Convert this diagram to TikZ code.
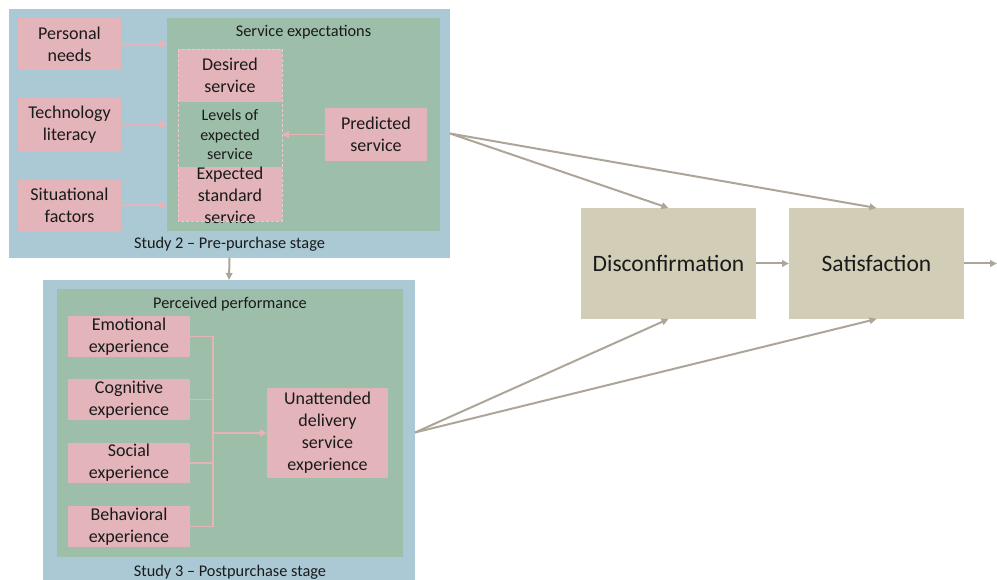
\documentclass[tikz,border=0pt]{standalone}
\usepackage{fontspec}
\setmainfont{Carlito}
\usetikzlibrary{arrows.meta}
\definecolor{stageblue}{HTML}{AAC9D5}
\definecolor{groupgreen}{HTML}{9DBFA9}
\definecolor{factorpink}{HTML}{E3B4B9}
\definecolor{outcometan}{HTML}{D1CDB6}
\definecolor{flowgrey}{HTML}{ADA698}
\definecolor{linkpink}{HTML}{E8B2B9}
\definecolor{inktext}{HTML}{1A1A1A}
\begin{document}
\begin{tikzpicture}[x=1pt,y=-1pt,
  box/.style={rectangle,inner sep=0pt,outer sep=0pt,align=center,text=inktext},
  stagebox/.style={box,fill=stageblue},
  groupbox/.style={box,fill=groupgreen},
  factor/.style={box,fill=factorpink,font=\fontsize{18}{22}\selectfont},
  outcome/.style={box,fill=outcometan,font=\fontsize{23.5}{28}\selectfont},
  caption/.style={text=inktext,font=\fontsize{16.3}{20}\selectfont},
  pinkarrow/.style={draw=linkpink,line width=1.6pt,-{Triangle[length=7pt,width=7pt]}},
  pinkline/.style={draw=linkpink,line width=1.6pt},
  greyarrow/.style={draw=flowgrey,line width=2pt,-{Triangle[length=7pt,width=6.5pt]}}]
\useasboundingbox (0,0) rectangle (997,580);

% Study 2: pre-purchase stage
\node[stagebox,minimum width=441pt,minimum height=249pt] (s2) at (229.5,133.5) {};
\node[groupbox,minimum width=273pt,minimum height=213pt] (se) at (303.5,124.5) {};
\node[caption] (setitle) at (303.5,32) {Service expectations};
\node[caption] (s2title) at (229.5,244) {Study 2 -- Pre-purchase stage};

\node[factor,minimum width=103pt,minimum height=52pt] (pn) at (69.5,44) {Personal\\needs};
\node[factor,minimum width=103pt,minimum height=53pt] (tl) at (69.5,124.5) {Technology\\literacy};
\node[factor,minimum width=103pt,minimum height=52pt] (sf) at (69.5,205) {Situational\\factors};

\node[factor,minimum width=104pt,minimum height=53pt] (ds) at (230,75.5) {Desired\\service};
\node[box,minimum width=104pt,minimum height=65pt,font=\fontsize{16}{19.5}\selectfont] (lv) at (230,135) {Levels of\\expected\\service};
\node[factor,minimum width=104pt,minimum height=54pt] (es) at (230,194) {};
\node[box,font=\fontsize{18}{22}\selectfont] (estext) at (230,195) {Expected\\standard\\service};
\draw[draw=linkpink!70!white,densely dashed,line width=0.6pt] (ds.north west) rectangle (es.south east);

\node[factor,minimum width=102pt,minimum height=53pt] (ps) at (376,134.5) {Predicted\\service};

\draw[pinkarrow] (pn.east) -- (pn.east -| se.west);
\draw[pinkarrow] (tl.east) -- (tl.east -| se.west);
\draw[pinkarrow] (sf.east) -- (sf.east -| se.west);
\draw[pinkarrow] (ps.west) -- (ps.west -| lv.east);

% Study 3: postpurchase stage
\node[stagebox,minimum width=372pt,minimum height=305pt] (s3) at (229,432.5) {};
\node[groupbox,minimum width=346pt,minimum height=268pt] (pp) at (230,423) {};
\node[caption] (pptitle) at (230,304) {Perceived performance};
\node[caption] (s3title) at (230,572) {Study 3 -- Postpurchase stage};

\node[factor,minimum width=122pt,minimum height=41pt] (em) at (129,336.5) {Emotional\\experience};
\node[factor,minimum width=122pt,minimum height=41pt] (cg) at (129,399.5) {Cognitive\\experience};
\node[factor,minimum width=122pt,minimum height=40pt] (so) at (129,463) {Social\\experience};
\node[factor,minimum width=122pt,minimum height=41pt] (bh) at (129,526.5) {Behavioral\\experience};
\node[factor,minimum width=121pt,minimum height=90pt] (un) at (327.5,433) {Unattended\\delivery\\service\\experience};

\coordinate (bx) at (213,433);
\draw[pinkline] (em.east) -- (em.east -| bx) -- (bh.east -| bx) -- (bh.east);
\draw[pinkline] (cg.east) -- (cg.east -| bx);
\draw[pinkline] (so.east) -- (so.east -| bx);
\draw[pinkarrow,line width=2.6pt] (bx) -- (un.west);

% Outcomes
\node[outcome,minimum width=175pt,minimum height=111pt] (dc) at (668.5,263.5) {Disconfirmation};
\node[outcome,minimum width=175pt,minimum height=111pt] (sa) at (876.5,263.5) {Satisfaction};
\coordinate (out) at (997,263.5);

\draw[greyarrow] (s2.east) -- (dc.north);
\draw[greyarrow] (s2.east) -- (sa.north);
\draw[greyarrow] (s3.east) -- (dc.south);
\draw[greyarrow] (s3.east) -- (sa.south);
\draw[greyarrow] (dc.east) -- (sa.west);
\draw[greyarrow] (sa.east) -- (out);
\draw[greyarrow] (s2.south) -- (s3.north);
\end{tikzpicture}
\end{document}
